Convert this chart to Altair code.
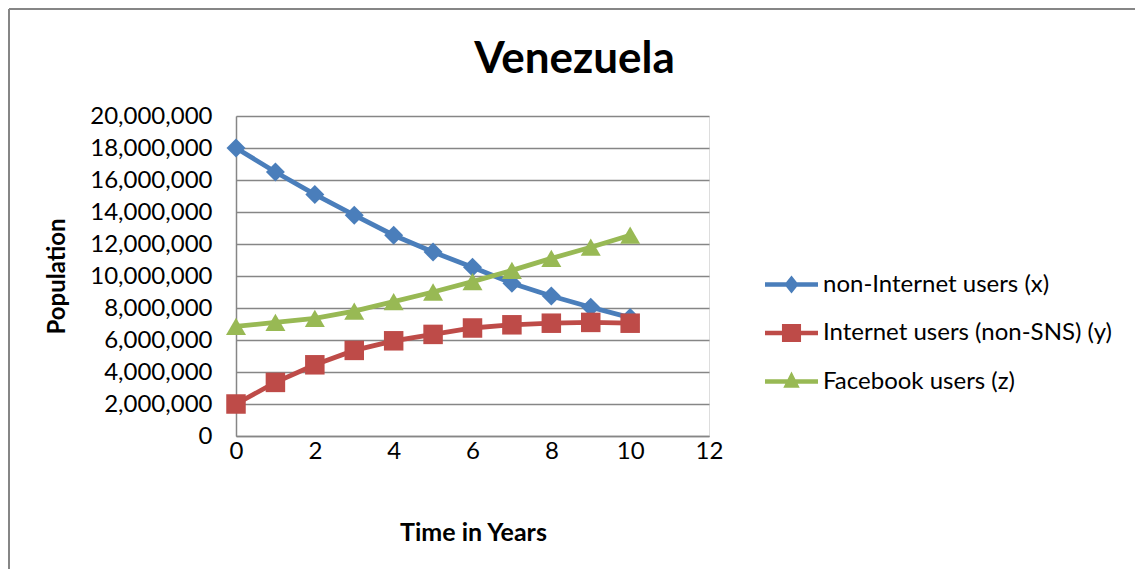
import altair as alt
import pandas as pd

years = list(range(11))
non_internet = [18.0e6, 16.5e6, 15.1e6, 13.8e6, 12.55e6, 11.5e6, 10.55e6, 9.55e6, 8.75e6, 8.05e6, 7.4e6]
internet = [2.0e6, 3.35e6, 4.45e6, 5.35e6, 5.95e6, 6.35e6, 6.75e6, 6.95e6, 7.05e6, 7.1e6, 7.05e6]
facebook = [6.85e6, 7.1e6, 7.35e6, 7.8e6, 8.4e6, 9.0e6, 9.65e6, 10.35e6, 11.1e6, 11.8e6, 12.55e6]

series_names = ["non-Internet users (x)", "Internet users (non-SNS) (y)", "Facebook users (z)"]
series_colors = ["#4A7EBB", "#BE4B48", "#98B954"]
marker_shapes = ["diamond", "square", "triangle-up"]
marker_sizes = [360, 400, 440]
legend_shapes = [
    "M-1,-0.085H1V0.085H-1Z M0,-0.34L0.27,0L0,0.34L-0.27,0Z",
    "M-1,-0.085H1V0.085H-1Z M-0.36,-0.34H0.36V0.34H-0.36Z",
    "M-1,-0.085H1V0.085H-1Z M0,-0.38L0.31,0.24L-0.31,0.24Z",
]
x_ticks = [0, 2, 4, 6, 8, 10, 12]
y_ticks = list(range(0, 20000001, 2000000))

rows = []
for name, vals in zip(series_names, [non_internet, internet, facebook]):
    for yr, v in zip(years, vals):
        rows.append({"Year": yr, "Population": v, "Series": name})
df = pd.DataFrame(rows)

FONT = "Lato"
GRAY = "#868686"

x_enc = alt.X(
    "Year:Q",
    scale=alt.Scale(domain=[0, 12], nice=False),
    axis=alt.Axis(
        values=x_ticks, title="Time in Years", grid=False, ticks=False, tickSize=0,
        labelFlush=False,
        labelFont=FONT, labelFontSize=24, labelPadding=3, labelColor="black",
        titleFont=FONT, titleFontSize=25, titleFontWeight="bold", titleColor="black",
        titleX=237, titleY=96, titleBaseline="middle", titleAlign="center",
        domainColor=GRAY, domainWidth=1.5,
    ),
)
y_enc = alt.Y(
    "Population:Q",
    scale=alt.Scale(domain=[0, 20000000], nice=False),
    axis=alt.Axis(
        values=y_ticks, format=",d", title="Population", ticks=False, tickSize=0,
        labelFont=FONT, labelFontSize=24, labelPadding=24, labelColor="black",
        titleFont=FONT, titleFontSize=24, titleFontWeight="bold", titleColor="black",
        titleX=-179, titleY=160, titleAngle=270, titleBaseline="middle", titleAlign="center",
        gridColor=GRAY, gridWidth=1.3, domainColor=GRAY, domainWidth=1.5,
    ),
)

color_nolegend = alt.Color("Series:N", scale=alt.Scale(domain=series_names, range=series_colors), legend=None)

lines = alt.Chart(df).mark_line(strokeWidth=4.8).encode(x=x_enc, y=y_enc, color=color_nolegend)

points = alt.Chart(df).mark_point(filled=True, opacity=1).encode(
    x=x_enc, y=y_enc, color=color_nolegend,
    shape=alt.Shape("Series:N", scale=alt.Scale(domain=series_names, range=marker_shapes), legend=None),
    size=alt.Size("Series:N", scale=alt.Scale(domain=series_names, range=marker_sizes), legend=None),
)

leg = alt.Legend(
    orient="none", legendX=529, legendY=142, title=None, symbolSize=2809,
    symbolStrokeWidth=0, symbolOpacity=1, labelFont=FONT, labelFontSize=24,
    labelColor="black", labelOffset=5, rowPadding=9.5, labelLimit=0,
)
legend_layer = alt.Chart(df).mark_point(filled=True, opacity=0, size=2809).encode(
    x=x_enc, y=y_enc,
    color=alt.Color("Series:N", scale=alt.Scale(domain=series_names, range=series_colors), legend=leg),
    shape=alt.Shape("Series:N", scale=alt.Scale(domain=series_names, range=legend_shapes), legend=leg),
)

frame_df = pd.DataFrame({"k": [0]})
frame_left = alt.Chart(frame_df).mark_rule(color=GRAY, strokeWidth=2).encode(
    x=alt.value(-227), y=alt.value(-107), y2=alt.value(460)
)
frame_top = alt.Chart(frame_df).mark_rule(color=GRAY, strokeWidth=2).encode(
    x=alt.value(-227), x2=alt.value(900), y=alt.value(-107)
)

chart = alt.layer(frame_left, frame_top, lines, points, legend_layer).resolve_scale(
    color="independent", shape="independent", size="independent"
).properties(
    width=473, height=320,
    autosize="none",
    padding={"left": 228, "top": 108, "right": 426, "bottom": 133},
    title=alt.TitleParams(
        "Venezuela", font=FONT, fontSize=44, fontWeight="bold", color="black",
        anchor="middle", frame="group", dx=102, baseline="alphabetic", offset=0, dy=109,
    ),
).configure_view(stroke=None).configure(background="white")

chart.save("out.html", embed_options={"renderer": "svg", "actions": False})
